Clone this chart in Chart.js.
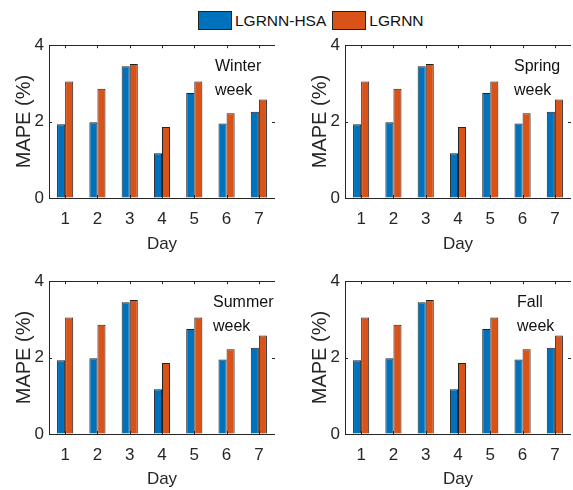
<!DOCTYPE html>
<html>
<head>
<meta charset="utf-8">
<script src="https://cdn.jsdelivr.net/npm/chart.js@4.4.0/dist/chart.umd.min.js"></script>
<style>
  body { margin: 0; background: #fff; width: 573px; height: 490px; position: relative; overflow: hidden; font-family: "Liberation Sans", Arial, sans-serif; }
  .panel { position: absolute; }
  .legend { position: absolute; top: 11px; left: 198px; display: flex; align-items: center; font-size: 15.5px; color: #111; }
  .legend .box { width: 34px; height: 19px; border: 1px solid #222; box-sizing: border-box; margin-right: 3px; }
  .legend span { margin-right: 6px; }
</style>
</head>
<body>
<div class="legend">
  <div class="box" style="background:#0072BD"></div><span>LGRNN-HSA</span>
  <div class="box" style="background:#D95319"></div><span>LGRNN</span>
</div>
<div class="panel" style="left:0;top:30px;width:290px;height:225px"><canvas id="c1"></canvas></div>
<div class="panel" style="left:296px;top:30px;width:277px;height:225px"><canvas id="c2"></canvas></div>
<div class="panel" style="left:0;top:266px;width:290px;height:224px"><canvas id="c3"></canvas></div>
<div class="panel" style="left:296px;top:266px;width:277px;height:224px"><canvas id="c4"></canvas></div>
<script>
// Datos
const dias = ["1", "2", "3", "4", "5", "6", "7"];
const lgrnnHsa = [1.93, 1.98, 3.45, 1.17, 2.75, 1.95, 2.26];
const lgrnn = [3.05, 2.86, 3.51, 1.86, 3.05, 2.22, 2.58];
const ticksY = [0, 2, 4];
const estaciones = ["Winter", "Spring", "Summer", "Fall"];

const fuente = "'Liberation Sans', Arial, sans-serif";
const colorTexto = "#262626";
const colorEje = "#262626";
const nada = "rgba(0,0,0,0)";

// Plugin: marcas hacia dentro y texto de la estación
const notaPlugin = {
  id: "nota",
  afterDraw(chart, args, opts) {
    const ctx = chart.ctx;
    const a = chart.chartArea;
    const x = chart.scales.x;
    const y = chart.scales.y;
    ctx.save();
    ctx.strokeStyle = colorEje;
    ctx.lineWidth = 1;
    ctx.beginPath();
    for (let i = 0; i < dias.length; i++) {
      const px = Math.round(x.getPixelForValue(i)) + 0.5;
      ctx.moveTo(px, a.bottom); ctx.lineTo(px, a.bottom - 3);
      ctx.moveTo(px, a.top); ctx.lineTo(px, a.top + 3);
    }
    ticksY.forEach(v => {
      const py = Math.round(y.getPixelForValue(v)) + 0.5;
      ctx.moveTo(a.left, py); ctx.lineTo(a.left + 3, py);
      ctx.moveTo(a.right, py); ctx.lineTo(a.right - 3, py);
    });
    ctx.stroke();
    ctx.fillStyle = "#111";
    ctx.font = "16px " + fuente;
    ctx.textBaseline = "middle";
    ctx.textAlign = "left";
    opts.lineas.forEach((txt, i) => {
      ctx.fillText(txt, a.left + opts.dx, a.top + opts.dy + i * 24);
    });
    ctx.restore();
  }
};

function grafico(id, estacion, dx, padDer, altoX) {
  const config = {
    type: "bar",
    data: {
      labels: dias,
      datasets: [
        { label: "LGRNN-HSA", data: lgrnnHsa, backgroundColor: "#0072BD", borderColor: "#222", borderWidth: 1 },
        { label: "LGRNN", data: lgrnn, backgroundColor: "#D95319", borderColor: "#222", borderWidth: 1 }
      ]
    },
    options: {
      responsive: true,
      maintainAspectRatio: false,
      animation: false,
      layout: { padding: { top: 11, right: padDer, left: 0, bottom: 0 } },
      datasets: { bar: { categoryPercentage: 0.5, barPercentage: 1.0 } },
      plugins: {
        legend: { display: false },
        tooltip: { enabled: false },
        nota: { lineas: [estacion, "week"], dx: dx, dy: 21 }
      },
      scales: {
        x: {
          // las líneas de los bordes izquierdo y derecho de la caja
          grid: {
            display: true, drawTicks: false, lineWidth: 1,
            color: c => (c.index === 0 || c.index === dias.length) ? colorEje : nada
          },
          border: { display: false },
          ticks: { color: colorTexto, font: { family: fuente, size: 17 }, padding: 11, maxRotation: 0 },
          title: { display: true, text: "Day", color: colorTexto, font: { family: fuente, size: 17 }, padding: { top: 0, bottom: 0 } },
          afterFit(s) { s.height = altoX; }
        },
        y: {
          min: 0, max: 4,
          // las líneas de abajo y arriba de la caja
          grid: {
            display: true, drawTicks: false, lineWidth: 1,
            color: c => (c.tick && (c.tick.value === 0 || c.tick.value === 4)) ? colorEje : nada
          },
          border: { display: false },
          ticks: { stepSize: 2, color: colorTexto, font: { family: fuente, size: 17 }, padding: 5 },
          title: { display: true, text: "MAPE (%)", color: colorTexto, font: { family: fuente, size: 20 }, padding: { top: 12, bottom: 0 } },
          afterFit(s) { s.width = 49; }
        }
      }
    },
    plugins: [notaPlugin]
  };
  new Chart(document.getElementById(id).getContext("2d"), config);
}

grafico("c1", estaciones[0], 166, 15, 57);
grafico("c2", estaciones[1], 169, 2, 57);
grafico("c3", estaciones[2], 164, 15, 56);
grafico("c4", estaciones[3], 172, 2, 56);
</script>
</body>
</html>
